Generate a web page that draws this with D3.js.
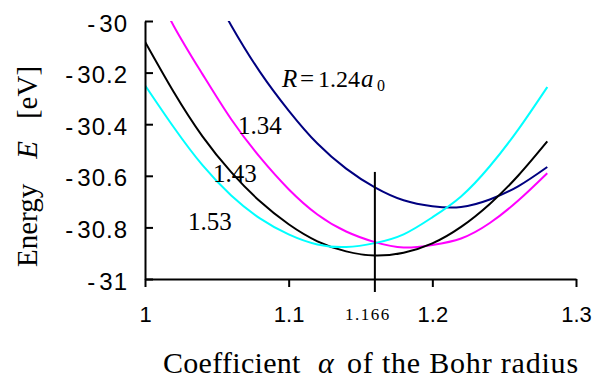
<!DOCTYPE html>
<html>
<head>
<meta charset="utf-8">
<script src="https://cdn.jsdelivr.net/npm/d3@7"></script>
<style>
body { margin: 0; background: #fff; }
svg { display: block; }
.axis path, .axis line { stroke: #000; stroke-width: 2; }
.axis text { font-family: "Liberation Sans", Arial, sans-serif; fill: #000; }
.axis.x text { font-size: 22px; }
.axis.y text { font-size: 24px; letter-spacing: 1px; }
.serif { font-family: "Liberation Serif", "Times New Roman", serif; fill: #000; }
</style>
</head>
<body>
<div id="idChart"></div>
<script>
// coefficient alpha of the Bohr radius
var gaAlpha = [1.00, 1.02, 1.04, 1.06, 1.08, 1.10, 1.12, 1.14, 1.16, 1.18, 1.20, 1.22, 1.24, 1.26, 1.28];

// energy E [eV] for each internuclear distance R (in a0)
var gaE_R124 = [-29.33, -29.58, -29.81, -30.017, -30.197, -30.347, -30.475, -30.572, -30.645, -30.695, -30.718, -30.721, -30.692, -30.640, -30.566];
var gaE_R134 = [-29.80, -30.019, -30.206, -30.381, -30.528, -30.652, -30.750, -30.816, -30.857, -30.878, -30.868, -30.843, -30.783, -30.695, -30.590];
var gaE_R143 = [-30.080, -30.275, -30.447, -30.586, -30.699, -30.788, -30.854, -30.893, -30.909, -30.898, -30.862, -30.798, -30.709, -30.598, -30.467];
var gaE_R153 = [-30.249, -30.412, -30.559, -30.676, -30.765, -30.827, -30.866, -30.876, -30.861, -30.827, -30.761, -30.680, -30.563, -30.419, -30.256];

var gasSeries = ["1.24", "1.34", "1.43", "1.53"];

var gaXTicks = [1, 1.1, 1.2, 1.3];
var gaYTicks = [-31, -30.8, -30.6, -30.4, -30.2, -30];

// optimum alpha marker
var gMarkerAlpha = 1.16;
var gMarkerTopE = -30.585;
var gsMarkerLabel = "1.166";

var iWidth = 594, iHeight = 379;
var margin = {top: 21, right: 18, bottom: 100, left: 145};
var iDrawWidth = iWidth - margin.left - margin.right;
var iDrawHeight = iHeight - margin.top - margin.bottom;

var x = d3.scaleLinear().domain([1, 1.3]).range([0, iDrawWidth]);
var y = d3.scaleLinear().domain([-31, -30]).range([iDrawHeight, 0]);

var svg = d3.select("#idChart").append("svg")
    .attr("width", iWidth)
    .attr("height", iHeight);

svg.append("defs").append("clipPath").attr("id", "plotClip")
    .append("rect").attr("width", iDrawWidth).attr("height", iDrawHeight);

var chartGroup = svg.append("g").attr("transform", "translate(" + margin.left + "," + margin.top + ")");

var series = [
    {name: gasSeries[0], values: gaE_R124, color: "#000080"},
    {name: gasSeries[1], values: gaE_R134, color: "#ff00ff"},
    {name: gasSeries[2], values: gaE_R143, color: "#000000"},
    {name: gasSeries[3], values: gaE_R153, color: "#00ffff"}
];

var valueLine = d3.line()
    .x(function(d){ return x(d.a); })
    .y(function(d){ return y(d.e); })
    .curve(d3.curveNatural);

chartGroup.append("g").attr("clip-path", "url(#plotClip)")
    .selectAll("path")
    .data(series)
    .enter().append("path")
    .attr("fill", "none")
    .attr("stroke", function(d){ return d.color; })
    .attr("stroke-width", 2)
    .attr("d", function(s){
        return valueLine(gaAlpha.map(function(a, i){ return {a: a, e: s.values[i]}; }));
    });

// axes
var xAxis = d3.axisBottom(x).tickValues(gaXTicks).tickSize(8).tickSizeOuter(0).tickFormat(String);
var yAxis = d3.axisLeft(y).tickValues(gaYTicks).tickSize(-8).tickSizeOuter(0).tickPadding(17)
    .tickFormat(function(d){ return "-\u200a" + Math.abs(d); });

var gx = chartGroup.append("g")
    .attr("class", "axis x")
    .attr("transform", "translate(0," + iDrawHeight + ")")
    .call(xAxis);
gx.selectAll("text").attr("y", 42.5).attr("dy", 0);

var gy = chartGroup.append("g")
    .attr("class", "axis y")
    .call(yAxis);
gy.selectAll("text").attr("dy", "0.42em");

// marker line at optimum alpha
chartGroup.append("line")
    .attr("x1", x(gMarkerAlpha)).attr("x2", x(gMarkerAlpha))
    .attr("y1", y(gMarkerTopE)).attr("y2", iDrawHeight + 13)
    .attr("stroke", "#000").attr("stroke-width", 2);

chartGroup.append("text")
    .attr("class", "serif")
    .attr("x", x(gMarkerAlpha) - 7)
    .attr("y", iDrawHeight + 41)
    .attr("text-anchor", "middle")
    .style("font-size", "17px")
    .style("letter-spacing", "1.5px")
    .text(gsMarkerLabel);

// series labels
var lab = svg.append("text").attr("class", "serif")
    .attr("y", 87)
    .style("font-size", "25px");
lab.append("tspan").attr("x", 282).style("font-style", "italic").text("R");
lab.append("tspan").attr("x", 300).text("=");
lab.append("tspan").attr("x", 318).style("font-size", "24px").text(gasSeries[0]);
lab.append("tspan").attr("x", 361).style("font-style", "italic").text("a");
lab.append("tspan").attr("x", 377).attr("dy", 3.5).style("font-size", "16px").text("0");

var labelPos = [null, [238, 134], [213, 182], [188, 230]];
for (var i = 1; i < gasSeries.length; i++)
{
    svg.append("text").attr("class", "serif")
        .attr("x", labelPos[i][0]).attr("y", labelPos[i][1])
        .style("font-size", "25px")
        .text(gasSeries[i]);
}

// axis titles
var yt = svg.append("text").attr("class", "serif")
    .attr("transform", "translate(37,267) rotate(-90)")
    .style("font-size", "29px");
yt.append("tspan").text("Energy");
yt.append("tspan").attr("dx", 25).style("font-style", "italic").text("E");
yt.append("tspan").attr("dx", 22).text("[eV]");

var xt = svg.append("text").attr("class", "serif")
    .attr("y", 373)
    .style("font-size", "30px");
xt.append("tspan").attr("x", 163).style("letter-spacing", "0.3px").text("Coefficient");
xt.append("tspan").attr("x", 318).style("font-style", "italic").text("\u03b1");
xt.append("tspan").attr("x", 347).style("letter-spacing", "0.8px").text("of the Bohr radius");
</script>
</body>
</html>
